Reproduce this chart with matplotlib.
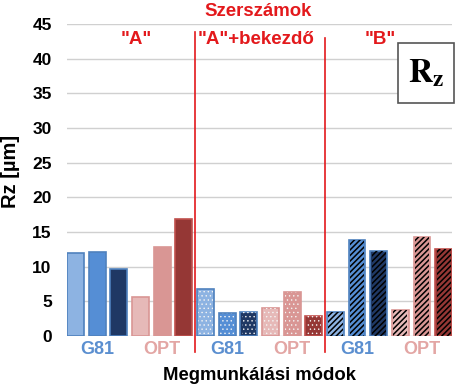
import matplotlib
matplotlib.use('Agg')
from matplotlib import pyplot as plt
from matplotlib.patches import Rectangle
from matplotlib.transforms import blended_transform_factory

# adatok
groups = ['"A"', '"A"+bekezdő', '"B"']
group_x = [2.81, 8.33, 14.09]
tick_labels = ['G81', 'OPT', 'G81', 'OPT', 'G81', 'OPT']
rz_a = [12.0, 12.1, 9.7, 5.6, 12.8, 16.8]
rz_a_bek = [6.7, 3.3, 3.5, 4.0, 6.4, 2.9]
rz_b = [3.5, 13.8, 12.3, 3.7, 14.2, 12.5]

face = ['#8db3e2', '#558ed5', '#1f3864', '#e6b9b8', '#d99694', '#953735']
edge = ['#4f81bd', '#4f81bd', '#4f81bd', '#d99694', '#d99694', '#c0504d']
red = '#e3191c'


def run():
    plt.rcParams['font.family'] = ['Liberation Sans', 'DejaVu Sans']
    plt.rcParams['mathtext.fontset'] = 'stix'
    fig = plt.figure(figsize=(4.59, 3.92), dpi=100)
    ax = fig.add_axes([0.146, 0.143, 0.839, 0.796])

    w = 0.78
    series = [(rz_a, None, None, 1.0), (rz_a_bek, '....', '#f4f4f4', 0.5),
              (rz_b, '//////', 'black', 1.1)]
    for g, (vals, hatch, hcol, hlw) in enumerate(series):
        for i, v in enumerate(vals):
            x = g * 6 + i
            ax.bar(x, v, width=w, color=face[i], edgecolor=edge[i], linewidth=1.2, zorder=2)
            if hatch:
                with plt.rc_context({'hatch.linewidth': hlw}):
                    ax.bar(x, v, width=w - 0.12, color='none', edgecolor=hcol,
                           hatch=hatch, linewidth=0, zorder=3)

    ax.set_xlim(-w / 2, 17 + w / 2)
    ax.set_ylim(0, 45)
    ax.set_yticks(range(0, 50, 5))
    ax.grid(axis='y', color='#d0d0d0', linewidth=1, zorder=0)
    for s in ax.spines.values():
        s.set_visible(False)
    ax.tick_params(length=0)
    ax.tick_params(axis='y', labelsize=12.5, pad=11)
    for t in ax.get_yticklabels():
        t.set_fontweight('bold')

    ax.set_xticks([1, 4, 7, 10, 13, 16])
    ax.set_xticklabels(tick_labels, fontsize=13, fontweight='bold')
    for t, lab in zip(ax.get_xticklabels(), tick_labels):
        t.set_color('#5b8fd0' if lab == 'G81' else '#e3a6a4')
    ax.tick_params(axis='x', pad=4)

    ax.set_xlabel('Megmunkálási módok', fontsize=13.3, fontweight='bold', labelpad=6)
    fig.text(11 / 459, 1 - 171 / 392, 'Rz [µm]', fontsize=14.5, fontweight='bold',
             rotation=90, ha='center', va='center')

    # elválasztó vonalak
    ax.plot([5.5, 5.5], [-0.05, 0.975], color=red, linewidth=1.2,
            transform=ax.get_xaxis_transform(), clip_on=False, zorder=4)
    ax.plot([11.5, 11.5], [-0.05, 0.955], color=red, linewidth=1.2,
            transform=ax.get_xaxis_transform(), clip_on=False, zorder=4)

    fig.text(258 / 459, 1 - 11 / 392, 'Szerszámok', color=red, fontsize=13.4,
             fontweight='bold', ha='center', va='center')
    trans = blended_transform_factory(ax.transData, fig.transFigure)
    for gx, name in zip(group_x, groups):
        ax.text(gx, 1 - 40 / 392, name, color=red, fontsize=13.5, fontweight='bold',
                ha='center', va='center', transform=trans)

    # Rz doboz
    fig.patches.append(Rectangle((398 / 459, 1 - 103 / 392), 56 / 459, 60 / 392,
                                 transform=fig.transFigure, facecolor='white',
                                 edgecolor='#555555', linewidth=1.2, zorder=5))
    fig.text(426 / 459, 1 - 73 / 392, r'$\mathbf{R_z}$', fontsize=24,
             ha='center', va='center', zorder=6)

    plt.savefig('out.png', dpi=100)


if __name__ == '__main__':
    run()
